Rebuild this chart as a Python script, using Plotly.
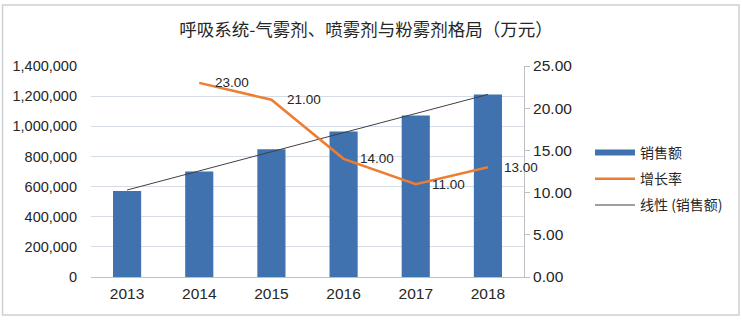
import numpy as np
import plotly.graph_objects as go

years = ["2013", "2014", "2015", "2016", "2017", "2018"]
sales = [570000, 700000, 847000, 966000, 1072000, 1211000]
growth_years = ["2014", "2015", "2016", "2017", "2018"]
growth = [23.00, 21.00, 14.00, 11.00, 13.00]
left_ticks = [0, 200000, 400000, 600000, 800000, 1000000, 1200000, 1400000]
right_ticks = [0, 5, 10, 15, 20, 25]

BLUE = "#3F72AF"
ORANGE = "#ED7D31"

# linear trendline over the sales bars
idx = np.arange(len(sales))
slope, intercept = np.polyfit(idx, sales, 1)
trend = slope * idx + intercept

W, H = 742, 322
ML, MR, MT, MB = 91, 218, 66, 45
pw, ph = W - ML - MR, H - MT - MB

def px(x):
    return (x - ML) / pw

def py(y):
    return (H - MB - y) / ph

fig = go.Figure()
fig.add_trace(go.Bar(
    x=years, y=sales, name="销售额", marker=dict(color=BLUE, line=dict(width=0)),
    showlegend=False, yaxis="y",
))
# legend entry for the bars, drawn as a wide band
fig.add_trace(go.Scatter(
    x=years[:1], y=[None], name="销售额", mode="lines",
    line=dict(color=BLUE, width=6), legendgroup="a", yaxis="y",
    hoverinfo="skip",
))
fig.add_trace(go.Scatter(
    x=growth_years, y=growth, name="增长率", mode="lines",
    line=dict(color=ORANGE, width=2.5),
    legendgroup="b", yaxis="y2",
))
fig.add_trace(go.Scatter(
    x=years, y=trend, name="线性 (销售额)", mode="lines",
    line=dict(color="#404040", width=1),
    legendgroup="c", yaxis="y",
))

# value labels to the right of each growth point (category index on the x axis)
label_font = dict(family="Liberation Sans, Arial, sans-serif", size=13.5, color="#262626")
annotations = [
    dict(x=years.index(yr), y=v, xref="x", yref="y2", text=f"{v:.2f}", showarrow=False,
         xanchor="left", yanchor="middle", xshift=14, font=label_font)
    for yr, v in zip(growth_years, growth)
]

tick_font = dict(family="Liberation Sans, Arial, sans-serif", size=15.5, color="#262626")
left_tick_font = dict(family="Liberation Sans, Arial, sans-serif", size=14.5, color="#262626")

fig.update_layout(
    width=W, height=H,
    margin=dict(l=ML, r=MR, t=MT, b=MB),
    paper_bgcolor="white", plot_bgcolor="white",
    bargap=0.61,
    showlegend=True,
    title=dict(
        text="呼吸系统-气雾剂、喷雾剂与粉雾剂格局（万元）",
        xref="container", x=366 / W, xanchor="center",
        yref="container", y=1 - 30 / H, yanchor="middle",
        font=dict(family="Noto Sans CJK SC, sans-serif", size=17.5, color="#262626"),
    ),
    xaxis=dict(
        type="category", categoryorder="array", categoryarray=years,
        range=[-0.5, len(years) - 0.5], automargin=False,
        tickfont=tick_font, showgrid=False,
        showline=True, linecolor="#BFBFBF", linewidth=1, ticks="",
        ticklabelstandoff=2,
    ),
    yaxis=dict(
        range=[0, 1400000], tickvals=left_ticks, automargin=False,
        ticktext=[f"{v:,}" for v in left_ticks],
        tickfont=left_tick_font, showgrid=True, gridcolor="#D6DCE5", gridwidth=1,
        zeroline=False, showline=False, ticks="", ticklen=0,
        ticklabelstandoff=13,
    ),
    yaxis2=dict(
        range=[0, 25], tickvals=right_ticks, automargin=False,
        ticktext=[f"{v:.2f}" for v in right_ticks],
        overlaying="y", side="right", tickfont=tick_font,
        showgrid=False, zeroline=False, showline=True,
        linecolor="#BFBFBF", linewidth=1, ticks="outside", ticklen=5,
        tickcolor="#BFBFBF",
    ),
    legend=dict(
        x=px(590), xanchor="left", y=py(179), yanchor="middle",
        font=dict(family="Noto Sans CJK SC, sans-serif", size=14, color="#262626"),
        traceorder="grouped", tracegroupgap=5, itemwidth=40,
        bgcolor="rgba(0,0,0,0)",
    ),
    annotations=annotations,
    shapes=[dict(
        type="rect", xref="paper", yref="paper",
        x0=px(2.5), x1=px(739), y0=py(315), y1=py(5),
        line=dict(color="#D0D0D0", width=1.5), fillcolor="rgba(0,0,0,0)",
        layer="below",
    )],
)

fig.write_html("out.html")
